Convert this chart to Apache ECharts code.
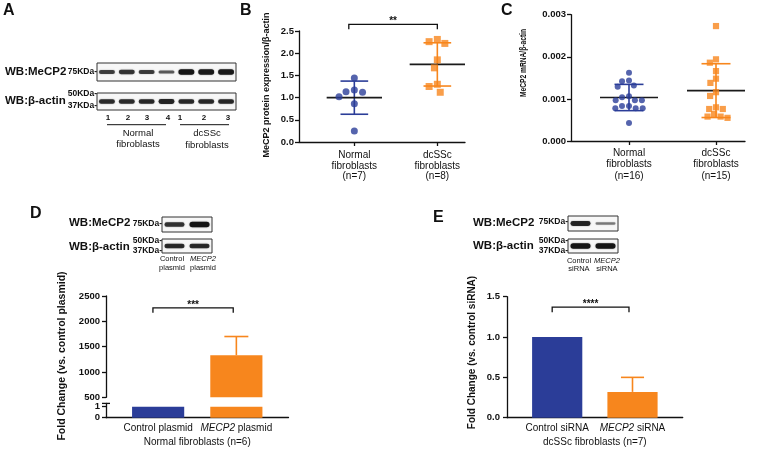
<!DOCTYPE html>
<html><head><meta charset="utf-8">
<script src="https://cdn.jsdelivr.net/npm/echarts@6/dist/echarts.min.js"></script>
<style>html,body{margin:0;padding:0;background:#fff}#c{width:780px;height:452px}</style>
</head><body><div id="c"></div>
<script>
// ---------------- DATA ----------------
// Panel A / D / E western blot band intensities (relative, 0..1)
const blotALanes = ['1', '2', '3', '4', '1', '2', '3'];
const blotAMecp2 = [0.62, 0.7, 0.64, 0.42, 1.0, 0.95, 0.95];
const blotAActin = [0.78, 0.78, 0.8, 0.85, 0.8, 0.8, 0.8];
const blotDMecp2 = [0.72, 1.0];
const blotDActin = [0.8, 0.8];
const blotEMecp2 = [0.85, 0.2];
const blotEActin = [1.0, 1.0];
// Panel B
const bGroups = ['Normal\nfibroblasts\n(n=7)', 'dcSSc\nfibroblasts\n(n=8)'];
const bNormal = [1.13, 1.02, 1.12, 1.17, 1.44, 0.86, 0.25];
const bDcssc = [2.31, 2.22, 2.26, 1.85, 1.67, 1.30, 1.25, 1.12];
const bTicks = ['0.0', '0.5', '1.0', '1.5', '2.0', '2.5'];
// Panel C
const cGroups = ['Normal\nfibroblasts\n(n=16)', 'dcSSc\nfibroblasts\n(n=15)'];
const cNormal = [0.00162, 0.00144, 0.00142, 0.00132, 0.00129, 0.00106, 0.00104, 0.00097, 0.00097, 0.00097, 0.00083, 0.00083, 0.00078, 0.00078, 0.00078, 0.00043];
const cDcssc = [0.00273, 0.00194, 0.00186, 0.00166, 0.00148, 0.00138, 0.00116, 0.00107, 0.00080, 0.00076, 0.00076, 0.00064, 0.00058, 0.00058, 0.00055];
const cTicks = ['0.000', '0.001', '0.002', '0.003'];
// Panel D
const dGroups = ['Control plasmid', 'MECP2 plasmid'];
const dMeans = [1, 1330];
const dErrors = [0, 370];
const dTicksUpper = ['500', '1000', '1500', '2000', '2500'];
const dTicksLower = ['0', '1'];
// Panel E
const eGroups = ['Control siRNA', 'MECP2 siRNA'];
const eMeans = [1.0, 0.32];
const eErrors = [0, 0.18];
const eTicks = ['0.0', '0.5', '1.0', '1.5'];

// ---------------- STYLE ----------------
const FONT = '"Liberation Sans", Arial, Helvetica, sans-serif';
const BLUE = '#2b3d98', ORANGE = '#f7861d', INK = '#111';
const POS = [1, 2.5];
const chart = echarts.init(document.getElementById('c'));

function swarm(values, center, pxX, pxY, diam) {
  const order = values.map((v, i) => i).sort((a, b) => values[b] - values[a]);
  const placed = [], out = new Array(values.length);
  order.forEach(i => {
    const py = values[i] * pxY;
    const iv = [];
    placed.forEach(p => {
      const dy = Math.abs(p.py - py);
      if (dy < diam) { const h = Math.sqrt(diam * diam - dy * dy); iv.push([p.px - h, p.px + h]); }
    });
    const cands = [0];
    iv.forEach(r => cands.push(r[0] - 0.01, r[1] + 0.01));
    cands.sort((a, b) => Math.abs(a) - Math.abs(b) || a - b);
    let px = 0;
    for (const c of cands) { if (iv.every(r => c <= r[0] || c >= r[1])) { px = c; break; } }
    placed.push({ px, py });
    out[i] = [center + px / pxX, values[i]];
  });
  return out;
}
function stats(v) {
  const m = v.reduce((a, b) => a + b, 0) / v.length;
  const sd = Math.sqrt(v.reduce((a, b) => a + (b - m) * (b - m), 0) / (v.length - 1));
  return [m, sd];
}
const axisLineStyle = { color: INK, width: 1.3 };
const tickFmt = arr => v => { const k = arr.map(Number).indexOf(v); return k >= 0 ? arr[k] : ''; };

const grids = [
  { left: 97, top: 63, width: 139, height: 18 },
  { left: 97, top: 93, width: 139, height: 17 },
  { left: 162, top: 217, width: 50, height: 15 },
  { left: 162, top: 239, width: 50, height: 14 },
  { left: 568, top: 216, width: 50, height: 15 },
  { left: 568, top: 239, width: 50, height: 14 },
  { left: 299, top: 31, width: 166, height: 111 },      // 6 B
  { left: 571, top: 14.7, width: 174, height: 126.3 },  // 7 C
  { left: 106, top: 296, width: 182.5, height: 101.3 }, // 8 D upper
  { left: 106, top: 403.4, width: 182.5, height: 14.3 },// 9 D lower
  { left: 507, top: 296.7, width: 175.7, height: 121 }  // 10 E
];
grids.forEach((g, i) => { if (i < 6) { g.show = true; g.borderColor = '#333'; g.borderWidth = 1; g.backgroundColor = '#f7f7f7'; } });

const xAxes = [], yAxes = [];
const blotSets = [blotAMecp2, blotAActin, blotDMecp2, blotDActin, blotEMecp2, blotEActin];
blotSets.forEach((arr, g) => {
  xAxes.push({ gridIndex: g, type: 'value', min: 0, max: arr.length, show: false });
  yAxes.push({ gridIndex: g, type: 'value', min: 0, max: 1, show: false });
});
function catX(g, max, labels, withTicks, margin, lh, extra) {
  return Object.assign({
    gridIndex: g, type: 'value', min: 0, max: max,
    axisLine: { show: true, onZero: false, lineStyle: axisLineStyle },
    axisTick: { show: withTicks, customValues: POS, length: 4, lineStyle: axisLineStyle },
    axisLabel: {
      customValues: POS, color: INK, fontSize: 10, lineHeight: lh, margin: margin, fontFamily: FONT,
      formatter: v => { const k = POS.indexOf(v); return k >= 0 ? labels[k].replace('MECP2', '{i|MECP2}') : ''; },
      rich: { i: { fontStyle: 'italic', fontSize: 10, fontFamily: FONT, color: INK } }
    },
    splitLine: { show: false }
  }, extra || {});
}
function valY(g, min, max, ticks, margin, fs, extra) {
  return Object.assign({
    gridIndex: g, type: 'value', min: min, max: max,
    axisLine: { show: true, lineStyle: axisLineStyle },
    axisTick: { show: true, customValues: ticks.map(Number), length: 4, lineStyle: axisLineStyle },
    axisLabel: { customValues: ticks.map(Number), formatter: tickFmt(ticks), fontWeight: 'bold', fontSize: fs, color: INK, margin: margin, fontFamily: FONT },
    splitLine: { show: false }
  }, extra || {});
}
xAxes.push(catX(6, 3, bGroups, true, 8, 10.5));
yAxes.push(valY(6, 0, 2.5, bTicks, 5, 9.5));
xAxes.push(catX(7, 3, cGroups, true, 6, 11.5));
yAxes.push(valY(7, 0, 0.003, cTicks, 5, 9.5));
xAxes.push({ gridIndex: 8, type: 'value', min: 0, max: 3.5, show: false });
yAxes.push(valY(8, 500, 2500, dTicksUpper, 6, 9.5));
xAxes.push(catX(9, 3.5, dGroups, false, 5, 12, { name: 'Normal fibroblasts (n=6)', nameLocation: 'middle', nameGap: 20, nameTextStyle: { fontSize: 10, color: INK, fontFamily: FONT } }));
yAxes.push(valY(9, 0, 1.3, dTicksLower, 6, 9.5, { axisLine: { show: true, lineStyle: axisLineStyle, symbol: ['none', 'rect'], symbolSize: [8, 1.3] } }));
xAxes.push(catX(10, 3.5, eGroups, false, 5, 12, { name: 'dcSSc fibroblasts (n=7)', nameLocation: 'middle', nameGap: 20, nameTextStyle: { fontSize: 10, color: INK, fontFamily: FONT } }));
yAxes.push(valY(10, 0, 1.5, eTicks, 7, 9.5));

// -------- series --------
const series = [];
blotSets.forEach((arr, g) => {
  series.push({
    type: 'custom', xAxisIndex: g, yAxisIndex: g, silent: true,
    data: arr.map((v, i) => [i, v]),
    renderItem: (params, api) => {
      const i = api.value(0), v = api.value(1);
      const c = api.coord([i + 0.5, 0.5]);
      const lw = api.size([1, 0])[0];
      const w = lw * 0.8, h = 1.5 + 4 * v;
      return { type: 'rect', shape: { x: c[0] - w / 2, y: c[1] - h / 2, width: w, height: h, r: h / 2 },
        style: { fill: 'rgba(15,15,15,' + (0.3 + 0.65 * v) + ')', shadowBlur: 1.5, shadowColor: 'rgba(0,0,0,0.5)' } };
    }
  });
});
function meanSdSeries(g, groups) {
  return {
    type: 'custom', xAxisIndex: g, yAxisIndex: g, silent: true, z: 2,
    data: groups.map((v, i) => { const s = stats(v); return { value: [POS[i], s[0], s[1]], itemStyle: { color: i ? ORANGE : BLUE } }; }),
    renderItem: (params, api) => {
      const x = api.value(0), m = api.value(1), sd = api.value(2);
      const ml = api.coord([x - 0.5, m]), mr = api.coord([x + 0.5, m]);
      const t = api.coord([x, m + sd]), b = api.coord([x, m - sd]);
      const cw = api.size([0.25, 0])[0];
      const col = api.visual('color');
      const L = (x1, y1, x2, y2, s) => ({ type: 'line', shape: { x1, y1, x2, y2 }, style: { stroke: s, lineWidth: 1.6 } });
      return { type: 'group', children: [
        L(t[0], t[1], b[0], b[1], col), L(t[0] - cw, t[1], t[0] + cw, t[1], col), L(b[0] - cw, b[1], b[0] + cw, b[1], col),
        L(ml[0], ml[1], mr[0], mr[1], '#1a1a1a')
      ] };
    }
  };
}
function bracket(g, x1, x2, y, label) {
  return {
    type: 'custom', xAxisIndex: g, yAxisIndex: g, silent: true, z: 5,
    data: [[x1, y, x2]],
    renderItem: (params, api) => {
      const a = api.coord([api.value(0), api.value(1)]), b = api.coord([api.value(2), api.value(1)]);
      return { type: 'group', children: [
        { type: 'polyline', shape: { points: [[a[0], a[1] + 5], [a[0], a[1]], [b[0], b[1]], [b[0], b[1] + 5]] }, style: { stroke: INK, lineWidth: 1.3, fill: null } },
        { type: 'text', x: (a[0] + b[0]) / 2, y: a[1] - 3, style: { text: label, font: 'bold 10px ' + FONT, fill: INK, align: 'center', verticalAlign: 'middle', textAlign: 'center', textVerticalAlign: 'middle' } }
      ] };
    }
  };
}
function barSeries(g, means, errs, segMax) {
  return {
    type: 'custom', xAxisIndex: g, yAxisIndex: g, silent: true, z: 2,
    data: means.map((m, i) => ({ value: [POS[i], m, errs[i]], itemStyle: { color: i ? ORANGE : BLUE } })),
    renderItem: (params, api) => {
      const x = api.value(0), v = api.value(1), err = api.value(2);
      const cs = params.coordSys;
      const col = api.visual('color');
      const left = api.coord([x - 0.5, 0])[0], right = api.coord([x + 0.5, 0])[0];
      const yb = cs.y + cs.height;
      const yt = Math.max(api.coord([x, Math.min(v, segMax)])[1], cs.y);
      const ch = [];
      if (yt < yb) ch.push({ type: 'rect', shape: { x: left, y: yt, width: right - left, height: yb - yt }, style: { fill: col } });
      if (err > 0 && v <= segMax) {
        const p = api.coord([x, v]), q = api.coord([x, v + err]);
        const cw = api.size([0.23, 0])[0];
        ch.push({ type: 'line', shape: { x1: p[0], y1: p[1], x2: q[0], y2: q[1] }, style: { stroke: col, lineWidth: 1.6 } });
        ch.push({ type: 'line', shape: { x1: q[0] - cw, y1: q[1], x2: q[0] + cw, y2: q[1] }, style: { stroke: col, lineWidth: 1.6 } });
      }
      return { type: 'group', children: ch };
    }
  };
}
// B
series.push(meanSdSeries(6, [bNormal, bDcssc]));
series.push({ type: 'scatter', xAxisIndex: 6, yAxisIndex: 6, z: 3, symbol: 'circle', symbolSize: 7, itemStyle: { color: BLUE }, data: swarm(bNormal, POS[0], 166 / 3, 111 / 2.5, 8.5) });
series.push({ type: 'scatter', xAxisIndex: 6, yAxisIndex: 6, z: 3, symbol: 'rect', symbolSize: 7, itemStyle: { color: ORANGE }, data: swarm(bDcssc, POS[1], 166 / 3, 111 / 2.5, 8.5) });
series.push(bracket(6, 0.9, 2.5, 2.65, '**'));
// C
series.push(meanSdSeries(7, [cNormal, cDcssc]));
series.push({ type: 'scatter', xAxisIndex: 7, yAxisIndex: 7, z: 3, symbol: 'circle', symbolSize: 6, itemStyle: { color: BLUE }, data: swarm(cNormal, POS[0], 174 / 3, 126.3 / 0.003, 7) });
series.push({ type: 'scatter', xAxisIndex: 7, yAxisIndex: 7, z: 3, symbol: 'rect', symbolSize: 6.2, itemStyle: { color: ORANGE }, data: swarm(cDcssc, POS[1], 174 / 3, 126.3 / 0.003, 7) });
// D
series.push(barSeries(8, dMeans, dErrors, Infinity));
series.push(barSeries(9, dMeans, dErrors, 1));
series.push(bracket(8, 0.9, 2.44, 2267, '***'));
// E
series.push(barSeries(10, eMeans, eErrors, Infinity));
series.push(bracket(10, 0.9, 2.43, 1.37, '****'));

// -------- text annotations --------
const G = [];
function T(text, x, y, font, align, extra) {
  G.push(Object.assign({ type: 'text', x: x, y: y, silent: true,
    style: { text: text, font: font + ' ' + FONT, fill: INK, align: align || 'left', textAlign: align || 'left', verticalAlign: 'middle', textVerticalAlign: 'middle' } }, extra || {}));
}
function Ln(x1, y1, x2, y2) { G.push({ type: 'line', silent: true, shape: { x1, y1, x2, y2 }, style: { stroke: INK, lineWidth: 1 } }); }
function ML(text, x, y, fs, lh, italic) {
  G.push({ type: 'text', x: x, y: y, silent: true, style: { text: text, font: fs + 'px ' + FONT, fill: INK, align: 'center', textAlign: 'center', verticalAlign: 'middle', textVerticalAlign: 'middle', lineHeight: lh,
    rich: { i: { fontStyle: 'italic', fontSize: fs, fontFamily: FONT, fill: INK, lineHeight: lh } } } });
}
// panel letters
T('A', 3, 11, 'bold 16px'); T('B', 240, 11, 'bold 16px'); T('C', 501, 11, 'bold 16px');
T('D', 30, 214, 'bold 16px'); T('E', 433, 218, 'bold 16px');
// A
T('WB:MeCP2', 5, 72, 'bold 11.5px'); T('75KDa-', 97, 72, 'bold 8.5px', 'right');
T('WB:β-actin', 5, 101, 'bold 11.5px'); T('50KDa-', 97, 94, 'bold 8.5px', 'right'); T('37KDa-', 97, 106, 'bold 8.5px', 'right');
[108, 128, 147, 168, 180, 204, 228].forEach((x, i) => T(blotALanes[i], x, 118, 'bold 8px', 'center'));
Ln(107, 124.7, 166, 124.7); Ln(180, 124.7, 229, 124.7);
ML('Normal\nfibroblasts', 138, 138.5, 9.5, 11);
ML('dcSSc\nfibroblasts', 207, 139, 9.5, 12);
// D
T('WB:MeCP2', 69, 223, 'bold 11.5px'); T('75KDa-', 162, 224, 'bold 8.5px', 'right');
T('WB:β-actin', 69, 247, 'bold 11.5px'); T('50KDa-', 162, 241, 'bold 8.5px', 'right'); T('37KDa-', 162, 251, 'bold 8.5px', 'right');
ML('Control\nplasmid', 172, 263.5, 7.5, 8.5);
ML('{i|MECP2}\nplasmid', 203, 263.5, 7.5, 8.5);
// E
T('WB:MeCP2', 473, 223, 'bold 11.5px'); T('75KDa-', 568, 222, 'bold 8.5px', 'right');
T('WB:β-actin', 473, 246, 'bold 11.5px'); T('50KDa-', 568, 241, 'bold 8.5px', 'right'); T('37KDa-', 568, 251, 'bold 8.5px', 'right');
ML('Control\nsiRNA', 579, 265, 7.5, 8.5);
ML('{i|MECP2}\nsiRNA', 607, 265, 7.5, 8.5);
// axis titles
T('MeCP2 protein expression/β-actin', 266.5, 85, 'bold 9px', 'center', { rotation: Math.PI / 2 });
T('MeCP2 mRNA/β-actin', 523.5, 63, 'bold 9px', 'center', { rotation: Math.PI / 2, scaleX: 0.74 });
T('Fold Change (vs. control plasmid)', 62.5, 356, 'bold 10.5px', 'center', { rotation: Math.PI / 2 });
T('Fold Change (vs. control siRNA)', 472, 352.5, 'bold 10px', 'center', { rotation: Math.PI / 2 });

chart.setOption({
  animation: false,
  backgroundColor: '#fff',
  textStyle: { fontFamily: FONT },
  grid: grids, xAxis: xAxes, yAxis: yAxes, series: series, graphic: { elements: G }
});
</script></body></html>
